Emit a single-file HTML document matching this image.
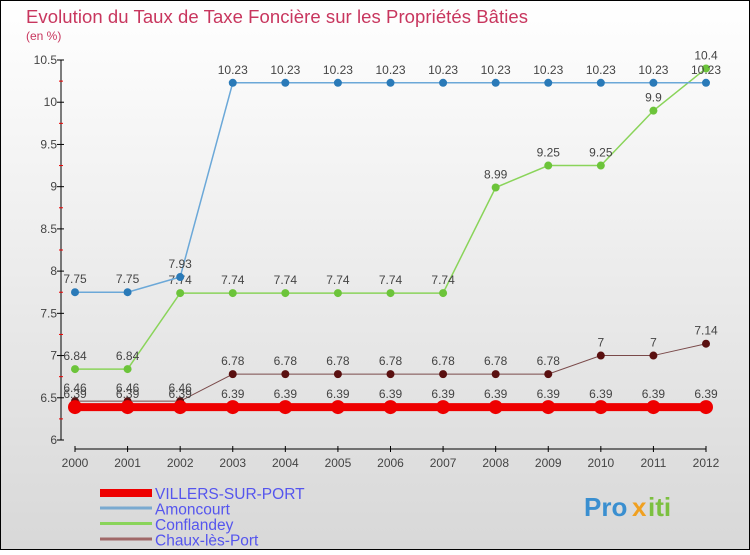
<!DOCTYPE html>
<html><head><meta charset="utf-8"><style>
body{margin:0;width:750px;height:550px;overflow:hidden;font-family:"Liberation Sans",sans-serif}
</style></head><body>
<svg width="750" height="550" xmlns="http://www.w3.org/2000/svg">
<defs><linearGradient id="bg" x1="0" y1="0" x2="0" y2="1"><stop offset="0" stop-color="#ffffff"/><stop offset="1" stop-color="#d8d8d8"/></linearGradient></defs>
<rect x="0.5" y="0.5" width="749" height="549" fill="url(#bg)" stroke="#000"/>
<text x="26" y="23" font-size="18.5" fill="#c8365e" textLength="502">Evolution du Taux de Taxe Foncière sur les Propriétés Bâties</text>
<text x="26" y="40" font-size="12" fill="#c8365e">(en %)</text>
<g id="axes"></g>
<g id="series"></g>
<g id="legend"></g>
<g font-size="26" font-weight="bold">
<text x="584" y="516" fill="#3a8fd0">Pro</text><text x="632" y="516" fill="#f0a020">x</text><text x="648" y="516" fill="#7cc040">iti</text>
</g>
</svg>
<script>
const years=[2000,2001,2002,2003,2004,2005,2006,2007,2008,2009,2010,2011,2012];
const yTicks=[6,6.5,7,7.5,8,8.5,9,9.5,10,10.5];
const villers=[6.39,6.39,6.39,6.39,6.39,6.39,6.39,6.39,6.39,6.39,6.39,6.39,6.39];
const amoncourt=[7.75,7.75,7.93,10.23,10.23,10.23,10.23,10.23,10.23,10.23,10.23,10.23,10.23];
const conflandey=[6.84,6.84,7.74,7.74,7.74,7.74,7.74,7.74,8.99,9.25,9.25,9.9,10.4];
const chaux=[6.46,6.46,6.46,6.78,6.78,6.78,6.78,6.78,6.78,6.78,7,7,7.14];
const seriesNames=["VILLERS-SUR-PORT","Amoncourt","Conflandey","Chaux-lès-Port"];
const NS="http://www.w3.org/2000/svg";
const x=i=>75+i*(706-75)/(years.length-1);
const y=v=>440-(v-6)*(380/4.5);
function mk(p,t,a){const e=document.createElementNS(NS,t);for(const k in a)e.setAttribute(k,a[k]);p.appendChild(e);return e;}
const ax=document.getElementById('axes');
let l=mk(ax,'line',{x1:61,y1:60,x2:61,y2:440,stroke:'#000'});


yTicks.forEach((v,i)=>{
 mk(ax,'line',{x1:57,y1:y(v),x2:64,y2:y(v),stroke:'#000'});
 if(i<yTicks.length-1)mk(ax,'line',{x1:59,y1:y(v+0.25),x2:63,y2:y(v+0.25),stroke:'#e00'});
 const t=mk(ax,'text',{x:57,y:y(v)+4,'font-size':12,'text-anchor':'end',fill:'#444'});t.textContent=String(v);
 
 
});
l=mk(ax,'line',{x1:75,y1:449,x2:706,y2:449,stroke:'#000'});


years.forEach((yr,i)=>{
 mk(ax,'line',{x1:x(i),y1:446,x2:x(i),y2:452,stroke:'#000'});
 const t=mk(ax,'text',{x:x(i),y:467,'font-size':12,'text-anchor':'middle',fill:'#444'});t.textContent=yr;
 
 
});
const sg=document.getElementById('series');
const defs=[[chaux,'#7a4a4a','#5a1010',1,4,'chaux'],[conflandey,'#8ad45a','#6cc43a',1.5,4,'conflandey'],[amoncourt,'#6ba8d8','#2a7ab8',1.5,4,'amoncourt'],[villers,'#e00','#e00',8,7,'villers']];
defs.forEach(([d,lc,pc,w,r,n])=>{
 const pl=mk(sg,'polyline',{points:d.map((v,i)=>x(i)+','+y(v)).join(' '),fill:'none',stroke:lc,'stroke-width':w});
 
 
 d.forEach((v,i)=>{
  const c=mk(sg,'circle',{cx:x(i),cy:y(v),r:r,fill:pc});
  
  
  const t=mk(sg,'text',{x:x(i),y:y(v)-9,'font-size':12,'text-anchor':'middle',fill:'#444'});t.textContent=String(v);
  
  
 });
});
const lg=document.getElementById('legend');
const lc=['#e00','#7aaad0','#8ad45a','#a06868'];
seriesNames.forEach((s,i)=>{
 const yy=493+i*15.5;
 const r=mk(lg,'rect',{x:100,y:yy-(i?2:4),width:52,height:i?3:8,fill:lc[i]});
 
 
 const t=mk(lg,'text',{x:155,y:yy+6,'font-size':15.5,fill:'#5555ee'});t.textContent=s;
 
 
});
</script>
</body></html>
